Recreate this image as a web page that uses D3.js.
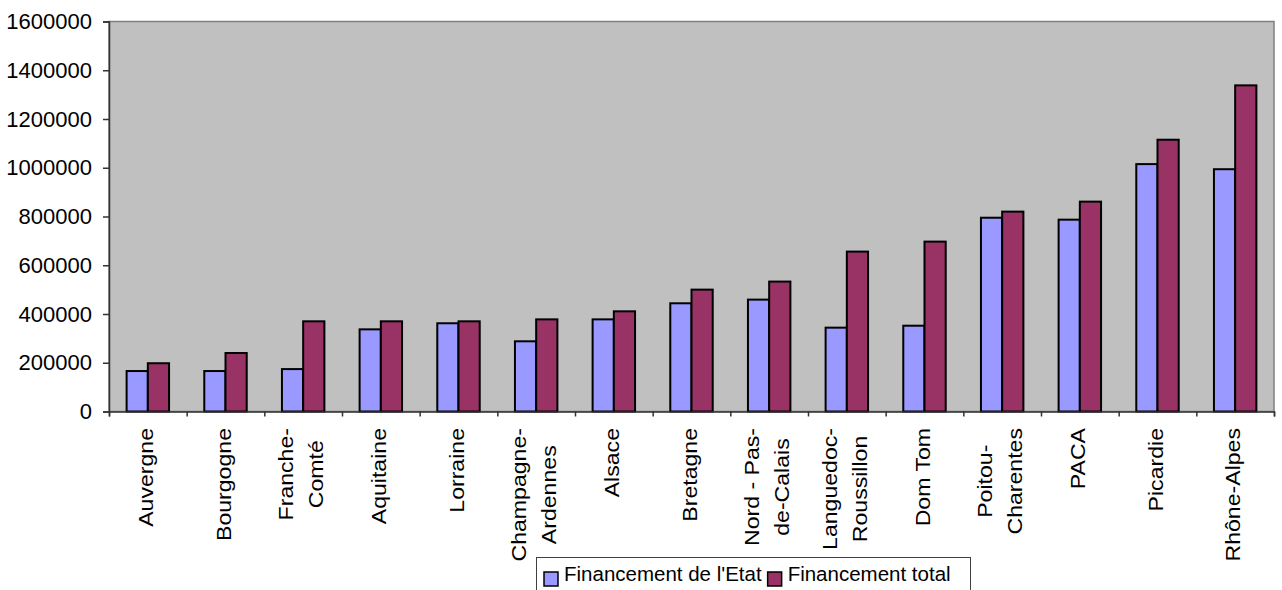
<!DOCTYPE html>
<html>
<head>
<meta charset="utf-8">
<script src="https://cdn.jsdelivr.net/npm/d3@7"></script>
<style>
  body { margin: 0; background: #fff; }
  text { font-family: "Liberation Sans", Arial, sans-serif; fill: #000; }
</style>
</head>
<body>
<svg width="1282" height="590"></svg>
<script>
const regions = ["Auvergne", "Bourgogne", "Franche-\nComté", "Aquitaine", "Lorraine",
  "Champagne-\nArdennes", "Alsace", "Bretagne", "Nord - Pas-\nde-Calais",
  "Languedoc-\nRoussillon", "Dom Tom", "Poitou-\nCharentes", "PACA", "Picardie", "Rhône-Alpes"];
const financementEtat = [166000, 166000, 174000, 337000, 362000, 288000, 378000, 444000,
  459000, 344000, 352000, 795000, 787000, 1015000, 994000];
const financementTotal = [198000, 240000, 370000, 370000, 370000, 378000, 411000, 500000,
  533000, 656000, 697000, 820000, 861000, 1115000, 1338000];
const seriesNames = ["Financement de l'Etat", "Financement total"];
const seriesColors = ["#9999FF", "#993366"];
const yTicks = [0, 200000, 400000, 600000, 800000, 1000000, 1200000, 1400000, 1600000];

const svg = d3.select("svg");
const plot = { left: 109, right: 1274, top: 21.5, bottom: 411.5 };

const data = regions.map((r, i) => ({ region: r, values: [financementEtat[i], financementTotal[i]] }));

const x = d3.scaleBand().domain(regions).range([plot.left, plot.right]);
const x1 = d3.scaleBand().domain([0, 1]).range([0, x.bandwidth()]).paddingOuter(0.83);
const y = d3.scaleLinear().domain([0, 1600000]).range([plot.bottom, plot.top]);

// plot area
svg.append("rect")
  .attr("x", plot.left).attr("y", plot.top)
  .attr("width", plot.right - plot.left).attr("height", plot.bottom - plot.top)
  .attr("fill", "#C0C0C0").attr("stroke", "#808080").attr("stroke-width", 1.5);

// bars
const groups = svg.append("g").selectAll("g").data(data).enter().append("g")
  .attr("transform", d => `translate(${x(d.region)},0)`);

groups.selectAll("rect").data(d => d.values).enter().append("rect")
  .attr("x", (d, i) => x1(i))
  .attr("width", x1.bandwidth())
  .attr("y", d => y(d))
  .attr("height", d => y(0) - y(d))
  .attr("fill", (d, i) => seriesColors[i])
  .attr("stroke", "#000").attr("stroke-width", 2);

// y axis
const yAxis = svg.append("g")
  .attr("transform", `translate(${plot.left},0)`)
  .call(d3.axisLeft(y).tickValues(yTicks).tickSize(6).tickPadding(11).tickFormat(d3.format("d")));
yAxis.selectAll("text").style("font-size", "22px").attr("font-family", null);
yAxis.selectAll("line, path").attr("stroke", "#333").attr("stroke-width", 1.5);

// x axis: ticks sit between categories
const xEdges = d3.scaleLinear().domain([0, regions.length]).range([plot.left, plot.right]);
const xAxis = svg.append("g")
  .attr("transform", `translate(0,${plot.bottom})`)
  .call(d3.axisBottom(xEdges).tickValues(d3.range(regions.length + 1)).tickSize(5).tickFormat(""));
xAxis.selectAll("line, path").attr("stroke", "#333").attr("stroke-width", 1.5);

// category labels, rotated
const labelTop = 428;
const lineGap = 29.5;
const labels = svg.append("g").selectAll("g").data(regions).enter().append("g")
  .attr("transform", d => `translate(${x(d) + x.bandwidth() / 2},${labelTop}) rotate(-90) scale(1.1,1)`);

labels.each(function(d) {
  const g = d3.select(this);
  const lines = d.split("\n");
  const texts = lines.map((line, i) => g.append("text")
    .style("font-size", "21px")
    .attr("y", 5 + (i - (lines.length - 1) / 2) * lineGap)
    .text(line));
  const maxLen = d3.max(texts, t => t.node().getComputedTextLength());
  texts.forEach(t => t.attr("text-anchor", "middle").attr("x", -maxLen / 2));
});

// legend
const legend = svg.append("g");
legend.append("rect")
  .attr("x", 536.5).attr("y", 557.5).attr("width", 434).attr("height", 45)
  .attr("fill", "#fff").attr("stroke", "#404040").attr("stroke-width", 1);

let lx = 544;
seriesNames.forEach((name, i) => {
  legend.append("rect")
    .attr("x", lx).attr("y", 572).attr("width", 14).attr("height", 14)
    .attr("fill", seriesColors[i]).attr("stroke", "#000").attr("stroke-width", 1.5);
  const t = legend.append("text")
    .attr("x", lx + 20).attr("y", 581)
    .style("font-size", "20.5px")
    .text(name);
  lx = lx + 20 + t.node().getComputedTextLength() + 6;
});
</script>
</body>
</html>
